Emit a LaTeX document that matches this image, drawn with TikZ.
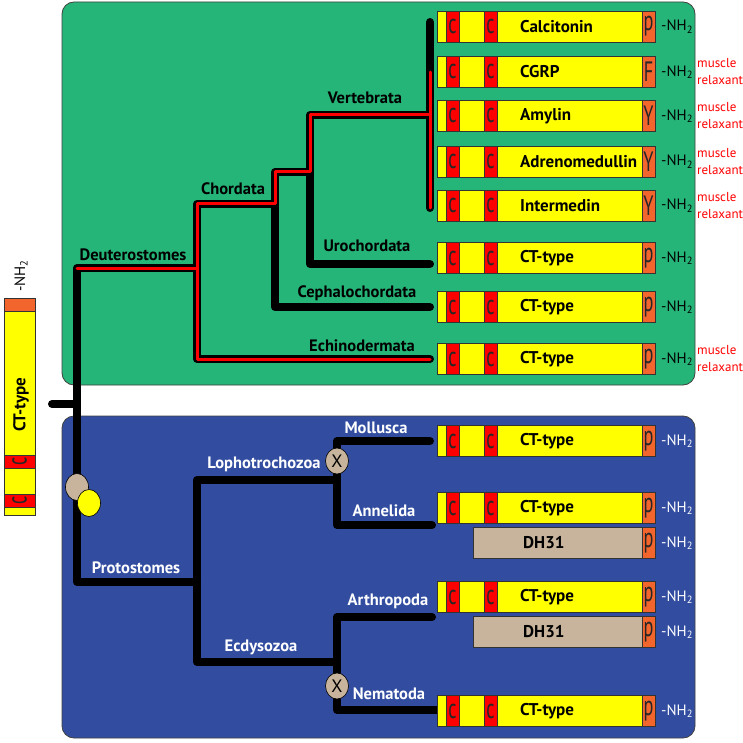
\documentclass[tikz,border=0pt]{standalone}
\usepackage{fontspec}
\setmainfont{PT Sans}
\usepackage{graphicx}
\usetikzlibrary{shapes,positioning}

\definecolor{pgreen}{RGB}{38,181,120}
\definecolor{pblue}{RGB}{50,77,160}
\definecolor{pyel}{RGB}{255,255,0}
\definecolor{pred}{RGB}{255,0,0}
\definecolor{porange}{RGB}{242,101,45}
\definecolor{ptan}{RGB}{200,180,156}

\tikzset{
  panel/.style={draw=black!75,line width=0.8pt,rounded corners=12pt},
  branch/.style={line width=8pt,line cap=round,line join=round},
  redbranch/.style={line width=3pt,draw=pred,line cap=round,line join=round},
  pbox/.style={draw=black!80,line width=0.8pt,fill=pyel,minimum height=31pt,inner sep=0pt},
  cbox/.style={pbox,fill=pred,minimum width=13pt,font=\fontsize{28}{28}\selectfont,text=black!85},
  ebox/.style={cbox,fill=porange},
  pname/.style={font=\fontsize{17}{17}\selectfont\bfseries,inner sep=0pt},
  clade/.style={font=\fontsize{16.5}{16.5}\selectfont\bfseries,inner sep=0pt},
  nh/.style={font=\fontsize{15}{15}\selectfont,inner sep=0pt},
  relax/.style={font=\fontsize{13}{17}\selectfont,text=pred,align=left,inner sep=0pt,anchor=west},
  xmark/.style={ellipse,draw=black,line width=0.6pt,fill=ptan,minimum width=23pt,minimum height=26pt,inner sep=0pt,font=\fontsize{18}{18}\selectfont},
  blob/.style={ellipse,draw=black,line width=0.6pt,minimum width=23pt,minimum height=27pt,inner sep=0pt},
}

\newcommand{\narrow}[1]{\scalebox{0.65}[1]{#1}}

% #1 name, #2 y, #3 peptide, #4 end residue, #5 colour of -NH2
\newcommand{\ctpep}[5]{%
  \node (#1) at (437,#2) [pbox,anchor=west,minimum width=218pt] {};
  \node (#1c1) at (452.5,#2) [cbox] {\narrow{c}};
  \node (#1c2) at (490.5,#2) [cbox] {\narrow{c}};
  \node (#1p) at (648.5,#2) [ebox] {\narrow{#4}};
  \node (#1t) at (520,#2) [pname,anchor=west] {#3};
  \node (#1nh) at (661,#2) [nh,anchor=west,text=#5] {-NH\textsubscript{2}};
}
% DH31 type
\newcommand{\dhpep}[3]{%
  \node (#1) at (473,#2) [pbox,fill=ptan,anchor=west,minimum width=182pt] {};
  \node (#1p) at (648.5,#2) [ebox] {\narrow{p}};
  \node (#1t) at (523,#2) [pname,anchor=west] {DH31};
  \node (#1nh) at (661,#2) [nh,anchor=west,text=#3] {-NH\textsubscript{2}};
}

\begin{document}
\begin{tikzpicture}[x=1pt,y=-1pt]
\useasboundingbox (0,0) rectangle (743,743);

% panels
\draw[panel,fill=pgreen] (62,2) rectangle (695,385);
\draw[panel,fill=pblue] (62,416) rectangle (695,738);

% branch points
\coordinate (root) at (77,404);
\coordinate (stub) at (52,404);
\coordinate (deutc) at (77,268);
\coordinate (deut) at (197,268);
\coordinate (chor) at (275,204);
\coordinate (olf) at (310,172);
\coordinate (vert) at (430,115);
\coordinate (vtop) at (430,22);
\coordinate (vred) at (430,72);
\coordinate (vbot) at (430,208);
\coordinate (uro) at (430,264);
\coordinate (ceph) at (430,307);
\coordinate (echi) at (430,359);
\coordinate (proto) at (197,582);
\coordinate (loph) at (337,480);
\coordinate (ecdy) at (337,662);
\coordinate (moll) at (430,441);
\coordinate (anne) at (432,525);
\coordinate (arth) at (432,617);
\coordinate (nema) at (437,710);

% tree
\draw[branch] (stub) -- (root);
\draw[branch] (root) |- (deut);
\draw[branch] (root) |- (proto);
\draw[branch] (deut) |- (chor);
\draw[branch] (deut) |- (echi);
\draw[branch] (chor) |- (olf);
\draw[branch] (chor) |- (ceph);
\draw[branch] (olf) |- (vert);
\draw[branch] (olf) |- (uro);
\draw[branch] (vtop) -- (vbot);
\draw[redbranch] (deutc) -- (deut) |- (chor) |- (olf) |- (vert);
\draw[redbranch] (deut) |- (echi);
\draw[redbranch] (vred) -- (vbot);
\draw[branch] (proto) |- (loph);
\draw[branch] (proto) |- (ecdy);
\draw[branch] (loph) |- (moll);
\draw[branch] (loph) |- (anne);
\draw[branch] (ecdy) |- (arth);
\draw[branch] (ecdy) |- (nema);

\node (lossL) at (337,461) [xmark] {X};
\node (lossE) at (337,686) [xmark] {X};
\node (tanmark) at (77,487) [blob,fill=ptan] {};
\node (yelmark) at (89,503) [blob,fill=pyel] {};

% clade names
\node (lVert) at (365,98) [clade] {Vertebrata};
\node (lChor) at (233,189) [clade] {Chordata};
\node (lDeut) at (133,255) [clade] {Deuterostomes};
\node (lUro) at (367,246) [clade] {Urochordata};
\node (lCeph) at (357,293) [clade] {Cephalochordata};
\node (lEchi) at (362,346) [clade] {Echinodermata};
\node (lMoll) at (376,428) [clade,text=white] {Mollusca};
\node (lLoph) at (264,464) [clade,text=white] {Lophotrochozoa};
\node (lAnne) at (384,511) [clade,text=white] {Annelida};
\node (lProt) at (136,568) [clade,text=white] {Protostomes};
\node (lArth) at (388,601) [clade,text=white] {Arthropoda};
\node (lEcdy) at (261,647) [clade,text=white] {Ecdysozoa};
\node (lNema) at (389,694) [clade,text=white] {Nematoda};

% peptides
\ctpep{calc}{26.5}{Calcitonin}{p}{black}
\ctpep{cgrp}{72}{CGRP}{F}{black}
\ctpep{amyl}{116}{Amylin}{Y}{black}
\ctpep{adm}{161.5}{Adrenomedullin}{Y}{black}
\ctpep{imd}{205.5}{Intermedin}{Y}{black}
\ctpep{uroct}{258}{CT-type}{p}{black}
\ctpep{cephct}{307}{CT-type}{p}{black}
\ctpep{echict}{359}{CT-type}{p}{black}
\ctpep{mollct}{441}{CT-type}{p}{white}
\ctpep{annect}{508}{CT-type}{p}{white}
\dhpep{annedh}{543}{white}
\ctpep{arthct}{597}{CT-type}{p}{white}
\dhpep{arthdh}{632}{white}
\ctpep{nemact}{711}{CT-type}{p}{white}

\node (rCgrp) at (697,72) [relax] {muscle\\relaxant};
\node (rAmyl) at (697,116) [relax] {muscle\\relaxant};
\node (rAdm) at (697,161.5) [relax] {muscle\\relaxant};
\node (rImd) at (697,205.5) [relax] {muscle\\relaxant};
\node (rEchi) at (697,359) [relax] {muscle\\relaxant};

% ancestral CT-type, upright
\node (ctv) at (19.5,406.5) [pbox,rotate=90,minimum width=217pt] {};
\node (ctvp) at (19.5,304.5) [ebox,rotate=90] {};
\node (ctvc1) at (19.5,461.5) [cbox,rotate=90] {\narrow{c}};
\node (ctvc2) at (19.5,500.5) [cbox,rotate=90] {\narrow{c}};
\node (ctvt) at (21,432) [pname,rotate=90,anchor=west] {CT-type};
\node (ctvnh) at (21,292) [nh,rotate=90,anchor=west] {-NH\textsubscript{2}};
\end{tikzpicture}
\end{document}
